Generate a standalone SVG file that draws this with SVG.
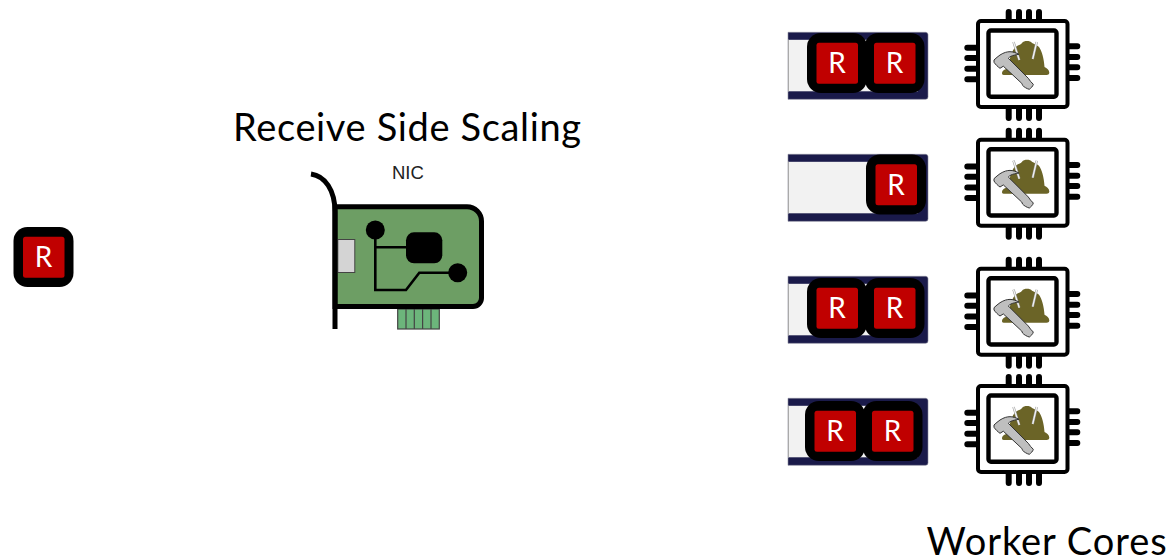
<svg xmlns="http://www.w3.org/2000/svg" width="1174" height="559" viewBox="0 0 1174 559">
<style>
.title{font-family:"Lato","Open Sans",sans-serif;font-size:38px;fill:#000;letter-spacing:.65px}
.wc{letter-spacing:.95px}
.nic{font-family:"Liberation Sans",Arial,sans-serif;font-size:18.500px;fill:#222}
.r{font-family:"Lato","Open Sans",sans-serif;font-size:28px;fill:#fff;text-anchor:middle}
.q{fill:#1a1a4a;stroke:#8a8a9a;stroke-width:.6}
.qi{fill:#f2f2f2}
.ql{stroke:#aaa;stroke-width:1}
.pin{stroke:#000;stroke-width:6;stroke-linecap:round;fill:none}
.tr{stroke:#000;stroke-width:2.600;fill:none}
</style>
<defs>
<g id="pkt">
<rect x="0" y="0" width="60" height="60" rx="14" fill="#000"/>
<rect x="9.500" y="9.700" width="41.500" height="41" rx="2.500" fill="#c00000"/>
<text class="r" x="30" y="40">R</text>
</g>
<g id="queue">
<path class="q" d="M788 0H925.500a2.500 2.500 0 0 1 2.500 2.500V64.500a2.500 2.500 0 0 1-2.500 2.500H788Z"/>
<rect class="qi" x="788" y="7.500" width="130" height="51.500"/>
<path class="ql" d="M788.500 7.500V59"/>
</g>
<g id="chip">
<g class="pin">
<path d="M1008.700 12V19M1019 12V19M1029 12V19M1039 12V19"/>
<path d="M1008.700 109V118M1019 109V118M1029 109V118M1039 109V118"/>
<path d="M967.300 47.700H976M967.300 58H976M967.300 68.700H976M967.300 79.300H976"/>
<path d="M1069 46.300H1077.300M1069 57H1077.300M1069 67.300H1077.300M1069 78H1077.300"/>
</g>
<rect x="978" y="21" width="89.500" height="86" rx="3" fill="#fff" stroke="#000" stroke-width="4"/>
<rect x="988.500" y="30.500" width="68" height="66.300" rx="2.500" fill="#fff" stroke="#000" stroke-width="4.400"/>
<path d="M1002 73.500C1002 70.500 1005 69 1009 68.500C1009 60 1011 50 1017 46C1019 45 1021 44.500 1022 43C1023 41.500 1025 41 1027 41C1029 41 1031 41.500 1032 43C1034 44 1037 45 1039 47C1042 51 1044 59 1044.500 67C1047 68 1049.500 70 1049.300 73C1049 75 1047 75 1045 75H1005C1003 75 1002 75 1002 73.500Z" fill="#6b6427"/>
<path d="M1013.500 42L1019.300 60M1036.700 42L1032.700 59" stroke="#999" stroke-width="2.400" fill="none"/>
<path d="M1013.500 42L1019.300 60M1036.700 42L1032.700 59" stroke="#f4f4f4" stroke-width="1.300" fill="none"/>
<path d="M994 60C996 58 998 56.500 1000 55C1004 52.500 1007 51.700 1010 51.700C1013 51.700 1016 52.800 1019 54.300C1016 54.800 1013 55.300 1011 56.300C1010 56.800 1009 57.500 1008.300 58.300L1028.300 78.300C1029.500 80.500 1031.500 82.500 1033.300 84.300C1032.800 86.500 1031 88 1029.300 89.300C1027 88.800 1024 87 1022.500 85.300C1022.500 84.500 1022 84 1021.700 83.300L1003.300 66.200L1000 68.300C998 67 995.500 64.500 994 62.300Z" fill="#bfbfbf" stroke="#333" stroke-width="1" stroke-linejoin="round"/>
</g>
</defs>
<rect width="1174" height="559" fill="#fff"/>
<g id="connectors"></g>
<g id="source-packet"><use href="#pkt" x="13.500" y="227"/></g>
<g id="title"><text class="title" x="233" y="141">Receive Side Scaling</text></g>
<g id="nic">
<text class="nic" x="392" y="179">NIC</text>
<g stroke="#444" stroke-width="1.200">
<rect x="397.700" y="309" width="41.600" height="20" fill="#6cb57b"/>
<path d="M406 309V329M414.300 309V329M422.600 309V329M431 309V329"/>
</g>
<path d="M335 206.700H467A14.500 14.500 0 0 1 481.500 221.200V298A8.500 8.500 0 0 1 473 306.500H335Z" fill="#6d9e64" stroke="#000" stroke-width="5"/>
<rect x="337.800" y="239.500" width="17" height="33" fill="#d4d4d4" stroke="#444" stroke-width="1"/>
<path d="M311 174C325 176 335 190 335 212V329" fill="none" stroke="#000" stroke-width="5"/>
<path class="tr" d="M375.300 230V290H406L419.300 272.700H457.700M375.300 247.300H406"/>
<circle cx="375.300" cy="230" r="9.500"/>
<circle cx="457.700" cy="272.700" r="9.500"/>
<rect x="406" y="232.300" width="36.300" height="31" rx="8"/>
</g>
<g id="queue-1"><use href="#queue" y="32.300"/><use href="#pkt" x="807" y="33"/><use href="#pkt" x="864.500" y="33"/></g>
<g id="queue-2"><use href="#queue" y="154.300"/><use href="#pkt" x="866" y="154.500"/></g>
<g id="queue-3"><use href="#queue" y="276.300"/><use href="#pkt" x="807" y="278"/><use href="#pkt" x="864.500" y="278"/></g>
<g id="queue-4"><use href="#queue" y="398.300"/><use href="#pkt" x="805" y="401"/><use href="#pkt" x="862.500" y="401"/></g>
<g id="core-1"><use href="#chip"/></g>
<g id="core-2"><use href="#chip" y="118.700"/></g>
<g id="core-3"><use href="#chip" y="247.700"/></g>
<g id="core-4"><use href="#chip" y="365"/></g>
<g id="cores-label"><text class="title wc" x="926.500" y="555">Worker Cores</text></g>
</svg>
